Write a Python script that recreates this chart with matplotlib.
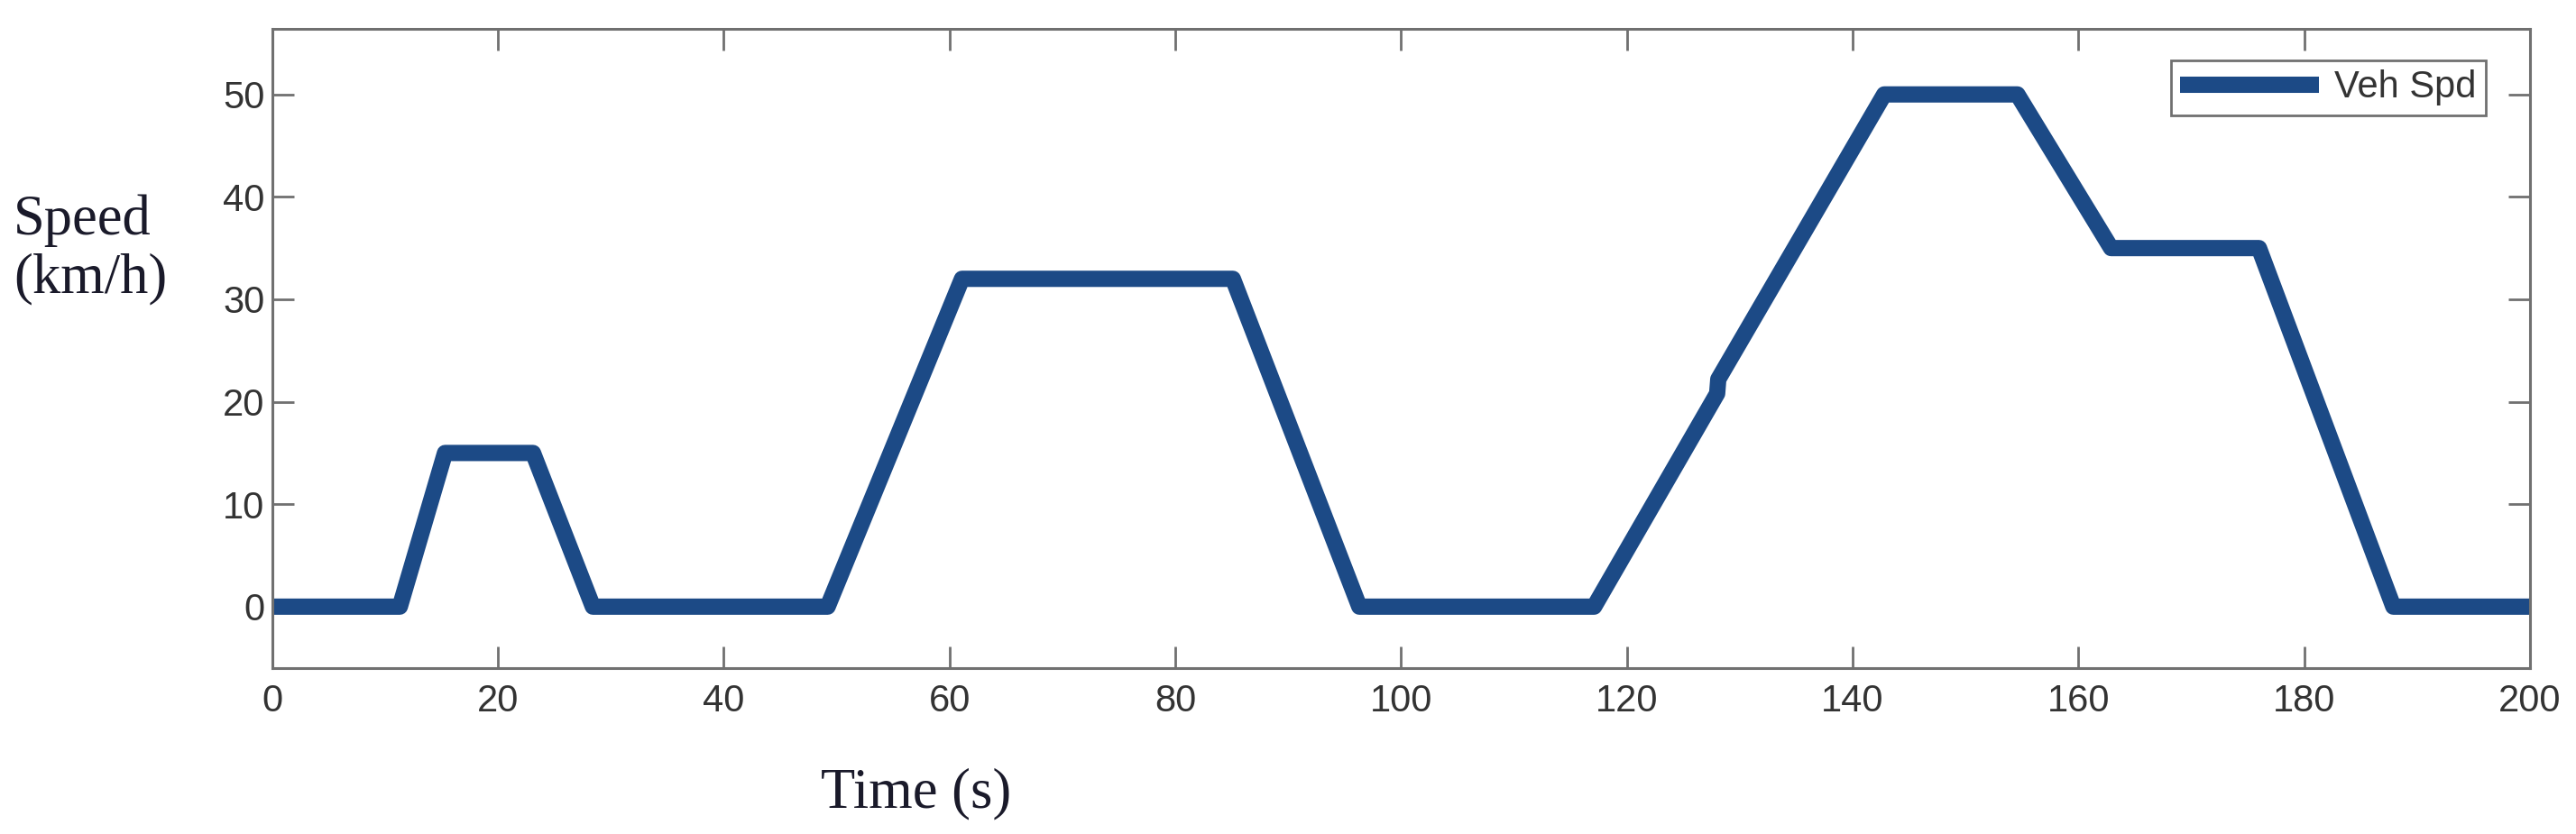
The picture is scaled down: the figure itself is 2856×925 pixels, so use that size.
import matplotlib
matplotlib.use('Agg')
import matplotlib.pyplot as plt

# drive cycle
time_s = [0, 11.3, 15.3, 23.1, 28.4, 49.2, 61.1, 85.1, 96.3, 117.1,
          128.0, 128.1, 142.8, 154.6, 162.9, 176.0, 187.9, 200]
speed_kmh = [0, 0, 15, 15, 0, 0, 32, 32, 0, 0,
             20.8, 22.2, 50, 50, 35, 35, 0, 0]

x_ticks = [0, 20, 40, 60, 80, 100, 120, 140, 160, 180, 200]
y_ticks = [0, 10, 20, 30, 40, 50]

blue = '#1c4a86'
grey = '#707070'

fig = plt.figure(figsize=(28.56, 9.25), dpi=100)
ax = fig.add_axes([0.1057, 0.1989, 0.9821 - 0.1057, 0.9654 - 0.1989])

ax.plot(time_s, speed_kmh, color=blue, lw=13, solid_joinstyle='round',
        solid_capstyle='butt', label='Veh Spd')

ax.set_xlim(0, 200)
ax.set_ylim(-6, 56.4)
ax.set_xticks(x_ticks)
ax.set_yticks(y_ticks)

for s in ax.spines.values():
    s.set_color(grey)
    s.set_linewidth(2.2)

ax.tick_params(direction='in', length=17, width=2, color=grey,
               top=True, right=True, labelsize=30, labelcolor='#333333')
ax.tick_params(axis='x', pad=12)
ax.tick_params(axis='y', pad=6)
for lab in ax.get_xticklabels() + ax.get_yticklabels():
    lab.set_family('Liberation Sans')

leg = ax.legend(loc='upper right', bbox_to_anchor=(0.9804, 0.9506),
                borderaxespad=0, fancybox=False, framealpha=1,
                handlelength=3.7, handletextpad=0.4, borderpad=0.25,
                prop={'family': 'Liberation Sans', 'size': 30})
leg.get_frame().set_edgecolor(grey)
leg.get_frame().set_linewidth(2)
for t in leg.get_texts():
    t.set_color('#333333')

lbl = dict(family='Liberation Serif', fontsize=45, color='#1a1a2a')
fig.text(0.0053, 0.7189, 'Speed', va='baseline', ha='left', **lbl)
fig.text(0.0053, 0.6497, '(km/h)', va='baseline', ha='left', **lbl)
fig.text(0.3186, 0.0324, 'Time (s)', va='baseline', ha='left', **lbl)

fig.savefig('out.png', dpi=100)
